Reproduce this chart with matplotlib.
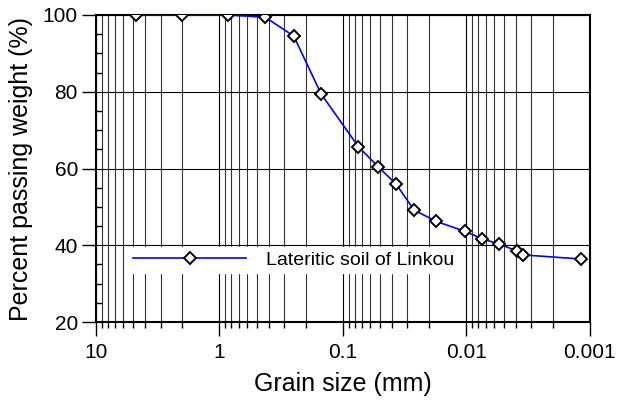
import numpy as np
import matplotlib
matplotlib.use('Agg')
import matplotlib.pyplot as plt
import matplotlib.ticker as mticker

plt.rcParams['font.family'] = ['Liberation Sans', 'DejaVu Sans']

# grain size (mm) and percent passing
grain_mm = [4.75, 2.0, 0.85, 0.425, 0.25, 0.15, 0.075, 0.052, 0.037, 0.0266,
            0.0175, 0.0102, 0.0075, 0.0054, 0.0039, 0.0035, 0.00117]
passing = [100.0, 100.0, 100.0, 99.4, 94.5, 79.4, 65.7, 60.5, 55.9, 49.2,
           46.2, 43.6, 41.7, 40.3, 38.5, 37.5, 36.4]
x_ticks = [10, 1, 0.1, 0.01, 0.001]
x_labels = ['10', '1', '0.1', '0.01', '0.001']
y_ticks = [20, 40, 60, 80, 100]

fig = plt.figure(figsize=(6.17, 4.01), dpi=100)
ax = fig.add_axes([0.1556, 0.197, 0.8004, 0.7656])

ax.set_xscale('log')
ax.set_xlim(10, 0.001)
ax.set_ylim(20, 100)

ax.xaxis.set_major_locator(mticker.FixedLocator(x_ticks))
ax.xaxis.set_major_formatter(mticker.FixedFormatter(x_labels))
ax.xaxis.set_minor_locator(mticker.LogLocator(base=10, subs=np.arange(2, 10)))
ax.xaxis.set_minor_formatter(mticker.NullFormatter())
ax.yaxis.set_major_locator(mticker.FixedLocator(y_ticks))
ax.yaxis.set_minor_locator(mticker.MultipleLocator(5))

ax.grid(True, which='major', axis='both', color='black', linewidth=0.8)
ax.grid(True, which='minor', axis='x', color='#333333', linewidth=0.8)

ax.plot(grain_mm, passing, color='blue', linewidth=1.2, marker='D',
        markersize=6.5, markerfacecolor='white', markeredgecolor='black',
        markeredgewidth=1.4, label='Lateritic soil of Linkou', zorder=3)

ax.tick_params(axis='both', which='major', direction='out', length=10, width=1,
               labelsize=15, colors='black', pad=3)
ax.tick_params(axis='x', which='major', pad=5)
ax.tick_params(axis='x', which='minor', direction='out', length=4, width=1)
ax.tick_params(axis='y', which='minor', direction='in', length=4.5, width=1)

for s in ax.spines.values():
    s.set_linewidth(1.5)
    s.set_color('black')

ax.set_xlabel('Grain size (mm)', fontsize=18, labelpad=7)
ax.set_ylabel('Percent passing weight (%)', fontsize=18, labelpad=7)

leg = ax.legend(loc='center left', bbox_to_anchor=(0.068, 0.202), frameon=True,
                fancybox=False, fontsize=14, handlelength=5.8, borderpad=0.2,
                handletextpad=1.0, borderaxespad=0)
leg.get_frame().set_edgecolor('white')
leg.get_frame().set_facecolor('white')
leg.get_frame().set_alpha(1)

fig.savefig('out.png', dpi=100)
